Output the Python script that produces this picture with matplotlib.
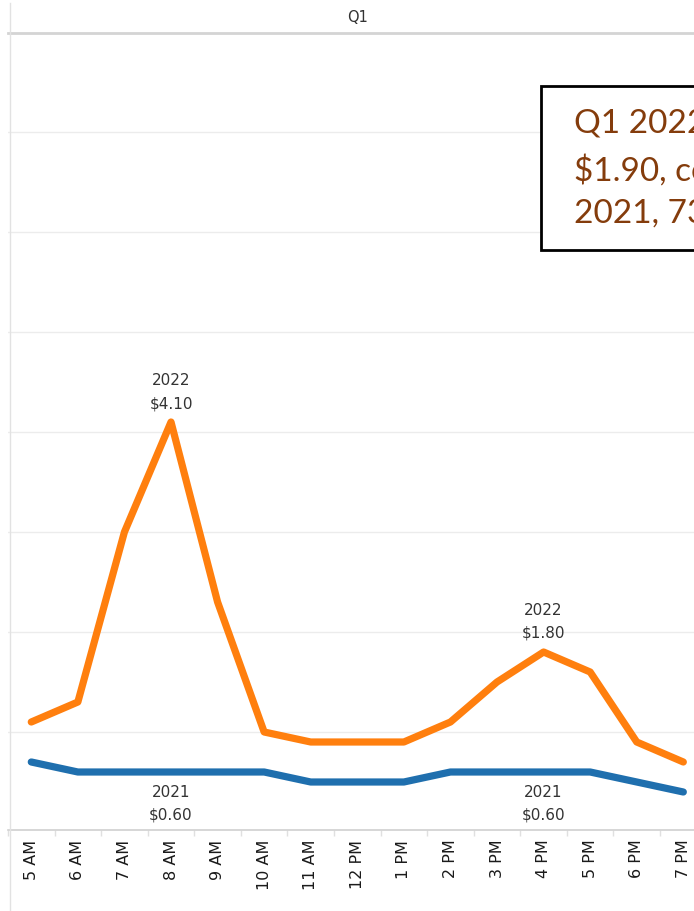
import numpy as np
import matplotlib
matplotlib.use("Agg")
import matplotlib.pyplot as plt
from matplotlib.patches import Rectangle
from matplotlib.lines import Line2D

# hourly values
hours = ["5 AM", "6 AM", "7 AM", "8 AM", "9 AM", "10 AM", "11 AM", "12 PM",
         "1 PM", "2 PM", "3 PM", "4 PM", "5 PM", "6 PM", "7 PM"]
fare_2022 = [1.10, 1.30, 3.00, 4.10, 2.30, 1.00, 0.90, 0.90, 0.90, 1.10, 1.50, 1.80, 1.60, 0.90, 0.70]
fare_2021 = [0.70, 0.60, 0.60, 0.60, 0.60, 0.60, 0.50, 0.50, 0.50, 0.60, 0.60, 0.60, 0.60, 0.50, 0.40]
label_hours = [3, 11]  # 8 AM and 4 PM
note_lines = ["Q1 2022 average fare was", "\\$1.90, compared to \\$1.10 in", "2021, 73% higher."]

W, H = 694, 911
fig = plt.figure(figsize=(W / 100, H / 100), dpi=100)

# plot pane: x from 8px to ~707px (cut off at the right), y from 33px to 830px
left, right = 8 / W, 706.6 / W
bottom, top = (H - 830) / H, (H - 33) / H
ax = fig.add_axes([left, bottom, right - left, top - bottom])

x = np.arange(len(hours))
ax.plot(x, fare_2021, color="#1f6fae", lw=5.2, solid_capstyle="round", solid_joinstyle="round", zorder=3)
ax.plot(x, fare_2022, color="#ff7f0e", lw=5.2, solid_capstyle="round", solid_joinstyle="round", zorder=4)

ax.set_xlim(-0.5, len(hours) - 0.5)
ax.set_ylim(0.02, 7.99)

# gridlines
for v in range(1, 8):
    ax.axhline(v, color="#ececec", lw=1, zorder=1)

for s in ["top", "right", "left"]:
    ax.spines[s].set_visible(False)
ax.spines["bottom"].set_color("#d0d0d0")
ax.spines["bottom"].set_linewidth(1.2)
ax.set_yticks([])

# band boundary ticks
ax.set_xticks(np.arange(len(hours) + 1) - 0.5, minor=True)
ax.tick_params(axis="x", which="minor", length=4, color="#e0e0e0", width=1)
ax.set_xticks(x)
ax.set_xticklabels(hours, rotation=90, fontsize=11.5, color="#1a1a1a")
ax.tick_params(axis="x", which="major", length=0, pad=7)

# data labels
for i in label_hours:
    ax.annotate("2022\n$%.2f" % fare_2022[i], (x[i], fare_2022[i]), xytext=(0, 11),
                textcoords="offset pixels", ha="center", va="bottom",
                fontsize=11, color="#333333", linespacing=1.65)
    ax.annotate("2021\n$%.2f" % fare_2021[i], (x[i], fare_2021[i]), xytext=(0, -13),
                textcoords="offset pixels", ha="center", va="top",
                fontsize=11, color="#333333", linespacing=1.65)

# header and pane borders
fig.text((8 + 706.6) / 2 / W, (H - 18) / H, "Q1", ha="center", va="center",
         fontsize=10.5, color="#333333")
fig.add_artist(Line2D([left, 1.0], [top, top], transform=fig.transFigure,
                      color="#d4d4d4", lw=2))
fig.add_artist(Line2D([left + 1.5 / W, left + 1.5 / W], [0, (H - 3) / H], transform=fig.transFigure,
                      color="#e2e2e2", lw=1))

# annotation box (cut off at the right edge, as in the source)
bx0, by0, by1 = 541 / W, (H - 250) / H, (H - 86) / H
fig.add_artist(Rectangle((bx0, by0), 0.6, by1 - by0, transform=fig.transFigure,
                         facecolor="white", edgecolor="black", lw=2, zorder=10))
fig.text(574 / W, (H - 169) / H, "\n".join(note_lines), ha="left", va="center",
         family="Lato", fontsize=24, color="#843c0c", linespacing=1.53, zorder=11)

fig.savefig("out.png", dpi=100)
